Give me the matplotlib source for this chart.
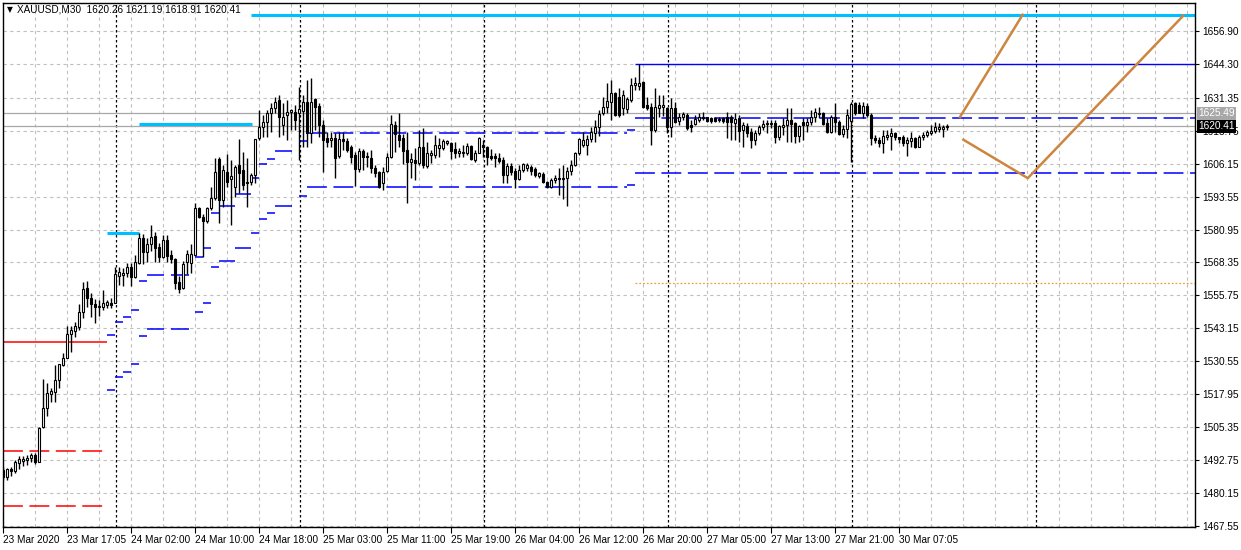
import numpy as np
import matplotlib
matplotlib.use("Agg")
import matplotlib.pyplot as plt

plt.rcParams['font.family'] = ['Liberation Sans', 'DejaVu Sans']

# XAUUSD M30 candles (bar 0 = left edge)
opens = [
    1489.0, 1486.3, 1489.2, 1488.4, 1491.7, 1492.6, 1492.8, 1493.6, 1494.7, 1492.2,
    1505.3, 1512.6, 1518.2, 1518.9, 1523.3, 1529.2, 1531.9, 1540.9, 1542.3, 1543.6,
    1549.5, 1558.5, 1554.7, 1552.4, 1551.2, 1551.2, 1552.1, 1552.8, 1553.0, 1563.3,
    1563.6, 1564.2, 1566.5, 1562.9, 1568.1, 1577.6, 1572.5, 1575.4, 1578.5, 1574.4,
    1570.6, 1577.0, 1571.2, 1569.7, 1561.0, 1558.7, 1568.4, 1568.3, 1571.2, 1589.1,
    1585.9, 1584.3, 1589.1, 1592.9, 1607.8, 1592.3, 1603.1, 1600.2, 1597.1, 1605.7,
    1603.7, 1599.3, 1599.0, 1601.8, 1615.9, 1620.3, 1622.2, 1625.4, 1627.3, 1630.5,
    1621.0, 1624.8, 1626.0, 1626.0, 1625.4, 1626.4, 1629.9, 1617.8, 1630.8, 1628.2,
    1621.0, 1615.9, 1615.2, 1615.9, 1609.1, 1615.6, 1614.9, 1612.7, 1609.5, 1604.0,
    1611.0, 1609.1, 1608.2, 1604.4, 1603.1, 1598.9, 1603.5, 1608.6, 1621.0, 1617.1,
    1615.9, 1611.4, 1606.9, 1607.6, 1606.3, 1612.4, 1605.3, 1609.5, 1609.5, 1612.0,
    1612.0, 1614.0, 1614.2, 1611.6, 1610.1, 1610.1, 1610.1, 1612.9, 1607.6, 1610.4,
    1613.3, 1612.4, 1609.2, 1609.1, 1608.4, 1607.6, 1601.8, 1605.3, 1603.4, 1600.3,
    1603.7, 1604.4, 1604.8, 1604.0, 1601.4, 1602.2, 1599.3, 1597.1, 1599.9, 1600.6,
    1600.6, 1600.6, 1603.4, 1605.7, 1610.1, 1613.3, 1613.3, 1615.5, 1618.0, 1620.1,
    1625.4, 1627.7, 1629.9, 1633.1, 1631.8, 1627.3, 1627.0, 1630.5, 1636.1, 1635.9,
    1637.5, 1628.6, 1628.0, 1619.0, 1627.6, 1627.7, 1627.3, 1620.3, 1627.3, 1622.6,
    1623.9, 1624.8, 1621.0, 1621.3, 1622.9, 1624.1, 1623.9, 1623.5, 1623.5, 1623.3,
    1623.5, 1624.1, 1623.9, 1621.8, 1623.5, 1619.0, 1620.6, 1618.3, 1615.2, 1617.8,
    1620.1, 1621.3, 1621.3, 1621.6, 1616.3, 1620.3, 1621.0, 1622.9, 1621.6, 1616.7,
    1622.2, 1621.0, 1622.2, 1623.9, 1625.2, 1625.4, 1621.6, 1618.4, 1623.9, 1622.2,
    1617.5, 1619.3, 1622.6, 1629.3, 1628.6, 1625.4, 1628.2, 1624.8, 1615.9, 1615.2,
    1614.0, 1616.5, 1616.7, 1617.8, 1616.3, 1616.3, 1614.0, 1614.9, 1615.9, 1612.7,
    1616.3, 1617.1, 1618.0, 1618.8, 1619.3, 1619.3, 1620.26,
]
highs = [
    1490.1, 1489.9, 1490.3, 1492.8, 1494.3, 1494.3, 1494.7, 1495.5, 1495.4, 1505.4,
    1523.8, 1522.1, 1520.2, 1529.2, 1529.5, 1533.6, 1544.1, 1544.2, 1545.7, 1552.6,
    1561.0, 1561.3, 1556.6, 1554.4, 1553.9, 1557.8, 1554.0, 1554.8, 1566.8, 1566.5,
    1566.1, 1568.1, 1568.3, 1571.2, 1579.5, 1579.1, 1577.6, 1582.7, 1580.1, 1575.7,
    1578.9, 1578.9, 1573.1, 1569.9, 1563.2, 1568.9, 1573.1, 1575.3, 1591.0, 1589.7,
    1586.9, 1589.7, 1597.4, 1608.2, 1608.6, 1605.7, 1609.9, 1607.6, 1605.7, 1615.6,
    1610.7, 1608.2, 1602.5, 1615.6, 1626.7, 1624.8, 1626.7, 1629.3, 1631.8, 1632.4,
    1629.3, 1630.5, 1627.0, 1628.6, 1635.6, 1632.4, 1638.2, 1638.8, 1631.2, 1629.3,
    1622.9, 1618.4, 1618.4, 1617.8, 1618.4, 1618.4, 1615.9, 1613.3, 1610.7, 1612.0,
    1611.8, 1610.7, 1611.4, 1605.7, 1603.3, 1605.0, 1610.1, 1624.8, 1622.6, 1625.7,
    1617.5, 1618.4, 1610.1, 1612.0, 1619.0, 1619.7, 1614.6, 1611.4, 1617.0, 1615.9,
    1615.4, 1615.2, 1614.6, 1614.6, 1612.0, 1613.3, 1614.2, 1613.3, 1611.4, 1616.5,
    1615.2, 1612.9, 1611.6, 1610.1, 1610.1, 1608.8, 1606.3, 1606.3, 1604.4, 1605.7,
    1606.3, 1606.3, 1605.7, 1604.8, 1603.1, 1603.1, 1599.6, 1600.6, 1601.8, 1604.4,
    1605.7, 1604.8, 1607.6, 1610.7, 1615.9, 1618.4, 1617.1, 1620.3, 1622.9, 1626.7,
    1631.8, 1636.9, 1638.2, 1633.7, 1635.0, 1634.3, 1631.5, 1638.8, 1639.4, 1644.2,
    1637.6, 1631.8, 1629.3, 1635.0, 1632.4, 1632.4, 1627.9, 1631.2, 1629.9, 1625.4,
    1626.0, 1625.4, 1622.9, 1624.8, 1625.4, 1626.0, 1624.1, 1624.1, 1623.9, 1624.0,
    1624.1, 1626.0, 1624.8, 1625.4, 1624.8, 1622.2, 1621.6, 1619.7, 1619.0, 1621.0,
    1622.9, 1622.9, 1622.9, 1622.9, 1621.0, 1623.5, 1627.3, 1627.3, 1622.2, 1621.0,
    1623.5, 1623.5, 1626.7, 1627.3, 1628.0, 1626.0, 1623.5, 1624.8, 1629.5, 1622.9,
    1621.0, 1627.0, 1629.9, 1629.9, 1629.9, 1629.9, 1629.3, 1625.5, 1617.1, 1616.5,
    1619.0, 1619.0, 1619.7, 1618.4, 1616.5, 1617.1, 1616.5, 1618.4, 1616.5, 1617.1,
    1618.4, 1619.0, 1621.0, 1622.2, 1621.6, 1621.0, 1621.19,
]
lows = [
    1485.2, 1485.2, 1486.8, 1487.8, 1489.4, 1490.6, 1490.9, 1492.0, 1491.2, 1492.0,
    1504.9, 1509.8, 1515.1, 1515.1, 1520.2, 1528.8, 1531.7, 1534.2, 1540.0, 1542.4,
    1547.0, 1551.5, 1547.6, 1545.3, 1548.0, 1550.2, 1550.8, 1550.9, 1552.8, 1559.8,
    1559.4, 1562.9, 1559.5, 1562.6, 1567.7, 1567.7, 1568.7, 1572.8, 1568.7, 1568.7,
    1570.1, 1568.7, 1568.1, 1558.1, 1556.8, 1558.1, 1564.0, 1564.2, 1570.8, 1585.3,
    1570.5, 1583.6, 1588.4, 1592.3, 1583.4, 1589.7, 1597.4, 1582.7, 1593.5, 1594.8,
    1596.1, 1589.7, 1598.0, 1598.7, 1615.2, 1616.5, 1616.5, 1618.4, 1625.4, 1616.5,
    1617.1, 1615.2, 1619.0, 1619.0, 1607.6, 1612.7, 1612.7, 1614.0, 1619.0, 1616.5,
    1603.1, 1612.7, 1612.7, 1600.6, 1608.2, 1611.4, 1610.7, 1606.3, 1597.6, 1603.1,
    1603.7, 1605.0, 1602.5, 1601.2, 1596.9, 1596.1, 1603.1, 1608.4, 1610.7, 1612.7,
    1606.0, 1591.0, 1600.6, 1599.9, 1605.7, 1604.4, 1604.4, 1606.3, 1608.2, 1608.6,
    1611.4, 1613.3, 1607.8, 1608.2, 1608.6, 1608.8, 1609.5, 1607.6, 1606.9, 1610.1,
    1608.8, 1605.7, 1607.6, 1604.8, 1606.3, 1598.7, 1598.7, 1601.8, 1596.7, 1599.9,
    1603.1, 1603.4, 1601.8, 1600.9, 1600.6, 1598.7, 1596.7, 1596.7, 1598.7, 1594.2,
    1592.5, 1590.0, 1601.8, 1605.3, 1609.5, 1612.7, 1609.5, 1614.6, 1614.6, 1616.7,
    1624.8, 1625.4, 1622.9, 1624.4, 1624.1, 1624.8, 1625.4, 1629.9, 1634.3, 1634.3,
    1627.5, 1626.7, 1613.3, 1618.4, 1624.1, 1624.4, 1617.8, 1616.5, 1621.6, 1621.0,
    1622.9, 1619.0, 1618.4, 1621.0, 1622.2, 1622.9, 1622.2, 1621.6, 1622.2, 1622.0,
    1621.8, 1615.9, 1615.2, 1615.2, 1614.6, 1612.7, 1616.5, 1612.0, 1613.3, 1617.1,
    1619.0, 1617.8, 1619.7, 1614.0, 1615.2, 1617.1, 1614.6, 1614.6, 1614.0, 1614.6,
    1615.2, 1618.4, 1621.0, 1622.2, 1623.5, 1621.0, 1617.8, 1617.8, 1618.4, 1617.1,
    1616.5, 1615.9, 1606.9, 1624.8, 1625.4, 1623.5, 1624.1, 1613.3, 1614.0, 1612.7,
    1610.4, 1615.2, 1611.4, 1615.2, 1614.0, 1612.9, 1609.1, 1612.7, 1612.0, 1612.4,
    1615.2, 1616.5, 1617.1, 1617.8, 1618.4, 1616.5, 1618.91,
]
closes = [
    1486.3, 1489.4, 1488.4, 1491.9, 1493.0, 1493.2, 1493.6, 1494.7, 1492.2, 1505.2,
    1512.6, 1518.3, 1519.2, 1523.3, 1529.4, 1531.7, 1540.9, 1542.4, 1543.9, 1549.5,
    1558.1, 1554.7, 1552.4, 1551.2, 1551.7, 1552.8, 1553.1, 1552.1, 1563.8, 1564.6,
    1564.2, 1566.5, 1562.9, 1568.4, 1577.6, 1572.5, 1575.4, 1578.0, 1574.0, 1570.6,
    1577.0, 1570.8, 1569.7, 1560.4, 1558.1, 1567.7, 1571.6, 1571.6, 1589.1, 1585.9,
    1584.3, 1589.1, 1592.9, 1603.1, 1592.3, 1603.7, 1599.0, 1601.4, 1604.8, 1602.5,
    1598.0, 1598.7, 1601.7, 1615.5, 1620.1, 1622.2, 1625.4, 1627.3, 1629.9, 1624.1,
    1623.9, 1625.8, 1626.7, 1622.9, 1627.0, 1629.9, 1617.8, 1629.6, 1628.0, 1621.0,
    1615.2, 1614.6, 1615.9, 1608.2, 1615.5, 1614.9, 1611.4, 1608.8, 1604.0, 1611.0,
    1608.8, 1608.8, 1604.4, 1602.7, 1597.1, 1603.1, 1608.6, 1621.2, 1617.4, 1615.2,
    1611.0, 1606.9, 1607.8, 1606.3, 1612.4, 1605.7, 1610.4, 1610.1, 1613.2, 1613.3,
    1614.9, 1614.8, 1611.1, 1610.1, 1611.1, 1610.7, 1612.9, 1607.8, 1610.4, 1615.9,
    1612.4, 1608.6, 1608.2, 1608.2, 1607.3, 1601.8, 1605.3, 1603.1, 1600.3, 1603.7,
    1605.9, 1605.7, 1603.5, 1601.8, 1602.7, 1599.3, 1597.1, 1599.9, 1600.8, 1600.2,
    1600.2, 1603.4, 1605.7, 1610.1, 1615.5, 1615.2, 1615.6, 1618.4, 1620.3, 1625.2,
    1628.0, 1630.2, 1633.1, 1624.8, 1624.8, 1632.4, 1630.8, 1636.3, 1636.9, 1637.1,
    1628.0, 1627.3, 1619.0, 1627.7, 1628.6, 1628.6, 1620.3, 1627.3, 1622.2, 1623.9,
    1625.2, 1619.7, 1620.3, 1623.1, 1623.9, 1623.5, 1622.6, 1622.6, 1622.6, 1622.7,
    1622.4, 1622.0, 1622.0, 1623.1, 1618.8, 1621.0, 1618.0, 1615.2, 1617.8, 1620.1,
    1621.3, 1621.6, 1621.8, 1616.3, 1620.6, 1621.0, 1622.9, 1621.3, 1616.7, 1620.6,
    1621.0, 1622.2, 1623.9, 1626.0, 1625.6, 1621.2, 1618.4, 1623.9, 1622.2, 1617.5,
    1619.3, 1624.8, 1629.0, 1625.7, 1625.7, 1628.2, 1624.8, 1615.9, 1615.2, 1614.0,
    1616.7, 1617.1, 1617.8, 1616.3, 1615.5, 1614.0, 1615.2, 1615.9, 1612.7, 1616.3,
    1617.1, 1618.4, 1618.8, 1620.3, 1620.3, 1620.3, 1620.41,
]

# axis labels
price_ticks = [1656.90, 1644.30, 1631.35, 1618.75, 1606.15, 1593.55, 1580.95, 1568.35,
               1555.75, 1543.15, 1530.55, 1517.95, 1505.35, 1492.75, 1480.15, 1467.55]
time_labels = ["23 Mar 2020", "23 Mar 17:05", "24 Mar 02:00", "24 Mar 10:00", "24 Mar 18:00",
               "25 Mar 03:00", "25 Mar 11:00", "25 Mar 19:00", "26 Mar 04:00", "26 Mar 12:00",
               "26 Mar 20:00", "27 Mar 05:00", "27 Mar 13:00", "27 Mar 21:00", "30 Mar 07:05"]
time_label_bars = [0, 16, 32, 48, 64, 80, 96, 112, 128, 144, 160, 176, 192, 208, 224]
day_separators = [28.25, 74.25, 120.25, 166.25, 212.25, 258.25]

# indicator steps (blue), upper and lower levels
blue_start = [26, 28, 30, 32, 34, 36, 42, 48, 50, 52, 54, 58, 62, 64, 66, 68, 74, 156]
blue_end = [28, 30, 32, 34, 36, 40.25, 46.5, 50, 52, 54, 58, 62, 64, 66, 68, 72.25, 76, 158]
blue_upper = [1540.6, 1545.5, 1547.4, 1550.1, 1561.1, 1563.5, 1563.5, 1570.3, 1573.8, 1587.2,
              1589.8, 1594.6, 1600.5, 1605.9, 1607.8, 1610.9, 1614.8, 1618.9]
blue_lower = [1519.6, 1524.4, 1526.4, 1529.4, 1540.1, 1542.9, 1542.9, 1549.3, 1552.7, 1566.5,
              1568.8, 1573.8, 1579.5, 1584.9, 1587.2, 1589.8, 1593.8, 1597.9]
blue_dash_start = [76, 158]
blue_dash_end = [156, 298]
blue_dash_upper = [1617.8, 1623.5]
blue_dash_lower = [1597.1, 1602.5]
blue_high_level = 1644.30
blue_high_start = 158

# drawn objects
cyan_start = [62, 34, 26]
cyan_end = [298, 62.25, 34]
cyan_price = [1663.0, 1621.3, 1579.75]
red_solid = 1537.8
red_dashed = [1496.1, 1475.1]
red_end = 26
orange_dotted = 1560.5
path1_bars = [239.25, 254.9]
path1_prices = [1624.0, 1663.1]
path2_bars = [240.1, 256.2, 295.1]
path2_prices = [1615.3, 1600.6, 1662.8]
ask_line = 1625.49
bid_line = 1620.41

W, H = 1241, 550
fig = plt.figure(figsize=(W / 100, H / 100), dpi=100)
ax = fig.add_axes([3 / W, 23 / H, 1192 / W, 524 / H])
ax.set_xlim(0, 298)
ax.set_ylim(1467.17, 1667.6)

for s in ax.spines.values():
    s.set_color("black")
    s.set_linewidth(1)

# grid
grid_kw = dict(color="#c0c0c0", lw=0.8, ls=(0, (3, 3)), zorder=0)
for p in price_ticks:
    ax.axhline(p, **grid_kw)
for b in np.arange(8, 298, 8):
    ax.axvline(b, **grid_kw)
for b in day_separators:
    ax.axvline(b, color="black", lw=0.9, ls=(0, (2, 2)), zorder=1)

dash = (0, (13, 4.3))
ax.axhline(ask_line, color="#a8a8a8", lw=0.9, zorder=1)
ax.axhline(bid_line, color="#a8a8a8", lw=0.9, zorder=1)

ax.hlines(blue_upper, blue_start, blue_end, color="#0000ff", lw=1.1, zorder=2)
ax.hlines(blue_lower, blue_start, blue_end, color="#0000ff", lw=1.1, zorder=2)
ax.hlines(blue_dash_upper, blue_dash_start, blue_dash_end, color="#0000ff", lw=1.1, ls=dash, zorder=2)
ax.hlines(blue_dash_lower, blue_dash_start, blue_dash_end, color="#0000ff", lw=1.1, ls=dash, zorder=2)
ax.hlines(blue_high_level, blue_high_start, 298, color="#0000ff", lw=1.0, zorder=2)
ax.hlines(orange_dotted, blue_high_start, 298, color="#e8a33d", lw=0.9, ls=(0, (1.5, 1.5)), zorder=2)

ax.hlines(cyan_price, cyan_start, cyan_end, color="#00bfff", lw=2.2, zorder=2)
ax.hlines(red_solid, 0, red_end, color="#ff0000", lw=1.1, zorder=2)
ax.hlines(red_dashed, 0, red_end, color="#ff0000", lw=1.1, ls=dash, zorder=2)

ax.plot(path1_bars, path1_prices, color="#cd853f", lw=1.8, zorder=3)
ax.plot(path2_bars, path2_prices, color="#cd853f", lw=1.8, zorder=3)

# candles
o = np.array(opens)
c = np.array(closes)
hi = np.maximum(np.array(highs), np.maximum(o, c))
lo = np.minimum(np.array(lows), np.minimum(o, c))
x = np.arange(len(o))
ax.vlines(x, lo, hi, color="black", lw=1.0, zorder=4)
up = c >= o
body_lo = np.minimum(o, c)
body_h = np.maximum(np.abs(c - o), 0.35)
ax.bar(x[up], body_h[up], bottom=body_lo[up], width=0.55, facecolor="white",
       edgecolor="black", lw=0.8, zorder=5)
ax.bar(x[~up], body_h[~up], bottom=body_lo[~up], width=0.55, facecolor="black",
       edgecolor="black", lw=0.8, zorder=5)

# ticks
ax.yaxis.tick_right()
ax.set_yticks(price_ticks)
ax.set_yticklabels(["%.2f" % p for p in price_ticks])
ax.set_xticks(time_label_bars)
ax.set_xticklabels(time_labels, ha="left")
ax.tick_params(axis="y", length=3, width=0.8, pad=2, labelsize=7.3, colors="black")
ax.tick_params(axis="x", length=4, width=0.8, pad=2, labelsize=7.2, colors="black")

# price boxes on the right scale
ax.annotate("%.2f" % ask_line, xy=(1, ask_line), xycoords=("axes fraction", "data"),
            xytext=(2.5, 0), textcoords="offset points", va="center", ha="left",
            fontsize=7.3, color="white",
            bbox=dict(boxstyle="square,pad=0.15", fc="#a8a8a8", ec="none"), zorder=10,
            annotation_clip=False)
ax.annotate("%.2f" % bid_line, xy=(1, bid_line), xycoords=("axes fraction", "data"),
            xytext=(2.5, 0), textcoords="offset points", va="center", ha="left",
            fontsize=7.3, color="white",
            bbox=dict(boxstyle="square,pad=0.15", fc="black", ec="none"), zorder=10,
            annotation_clip=False)

# header
fig.text(7 / W, 1 - 10 / H, "\u25bc", fontsize=5.5, va="center", ha="left",
         family=["DejaVu Sans"])
fig.text(17 / W, 1 - 10 / H, "XAUUSD,M30  %.2f %.2f %.2f %.2f" % (opens[-1], highs[-1], lows[-1], closes[-1]),
         fontsize=7.2, va="center", ha="left")

fig.savefig("out.png", dpi=100)
